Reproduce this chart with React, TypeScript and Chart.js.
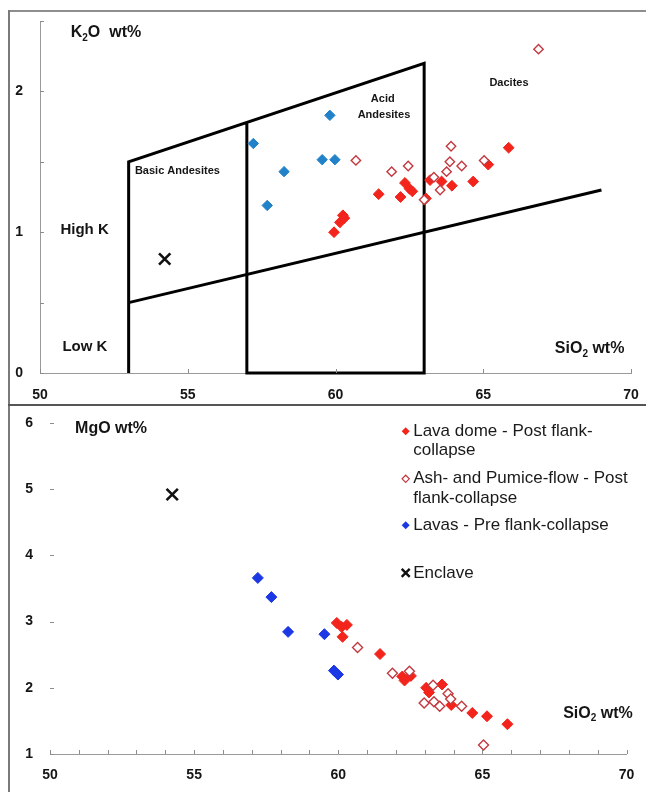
import React, { useEffect, useRef } from 'react';
import { Chart, registerables } from 'chart.js';

Chart.register(...registerables);

const FONT = '"Liberation Sans", Arial, Helvetica, sans-serif';

// ---------------- Top panel: K2O vs SiO2 ----------------
const domeSiO2Top = [59.95, 60.15, 60.25, 60.3, 61.46, 62.2, 62.35, 62.5, 62.6, 63.06, 63.2, 63.59, 63.94, 64.66, 65.17, 65.86];
const domeK2O = [1.0, 1.07, 1.12, 1.1, 1.27, 1.25, 1.35, 1.31, 1.29, 1.24, 1.37, 1.36, 1.33, 1.36, 1.48, 1.6];
const ashSiO2Top = [60.69, 61.9, 62.46, 63.0, 63.33, 63.54, 63.76, 63.87, 63.91, 64.27, 65.03, 66.87];
const ashK2O = [1.51, 1.43, 1.47, 1.23, 1.39, 1.3, 1.43, 1.5, 1.61, 1.47, 1.51, 2.3];
const lavaSiO2Top = [57.22, 57.69, 58.26, 59.55, 59.81, 59.98];
const lavaK2O = [1.63, 1.19, 1.43, 1.515, 1.83, 1.515];
const enclaveSiO2Top = [54.22];
const enclaveK2O = [0.81];

// classification field boundaries (SiO2, K2O)
const fieldSiO2 = [53, 53, 63, 63, 57, 57];
const fieldK2O = [0, 1.5, 2.2, 0, 0, 1.78];
const highKLineSiO2 = [53, 69];
const highKLineK2O = [0.5, 1.3];

const topXLabels = [50, 55, 60, 65, 70];
const topYLabels = [0, 1, 2];

// ---------------- Bottom panel: MgO vs SiO2 ----------------
const domeSiO2Bot = [59.95, 60.12, 60.3, 60.15, 61.45, 62.22, 62.3, 62.52, 63.05, 63.15, 63.6, 63.92, 64.65, 65.16, 65.87];
const domeMgO = [2.98, 2.92, 2.95, 2.77, 2.51, 2.17, 2.11, 2.18, 2.0, 1.93, 2.05, 1.74, 1.62, 1.57, 1.45];
const ashSiO2Bot = [60.67, 61.88, 62.47, 62.98, 63.29, 63.32, 63.52, 63.81, 63.9, 64.28, 65.04];
const ashMgO = [2.61, 2.22, 2.25, 1.77, 2.04, 1.79, 1.72, 1.91, 1.83, 1.72, 1.135];
const lavaSiO2Bot = [57.21, 57.68, 58.26, 59.52, 59.85, 59.99];
const lavaMgO = [3.66, 3.37, 2.845, 2.81, 2.26, 2.2];
const enclaveSiO2Bot = [54.24];
const enclaveMgO = [4.92];

const botXLabels = [50, 55, 60, 65, 70];
const botYLabels = [1, 2, 3, 4, 5, 6];

const seriesNames = [
  ['Lava dome - Post flank-', 'collapse'],
  ['Ash- and Pumice-flow - Post', 'flank-collapse'],
  ['Lavas - Pre flank-collapse'],
  ['Enclave'],
];

// ---------------- styles ----------------
const RED = '#f2241b';
const RED_OUTLINE = '#c23a40';
const BLUE_TOP = '#2182c9';
const BLUE_BOT = '#1b38e4';
const TEXT = '#151515';

const zip = (xs: number[], ys: number[]) => xs.map((x, i) => ({ x, y: ys[i] }));

type Part = { t: string; sub?: boolean };
type Label = { parts: Part[]; x: number; y: number; align: 'left' | 'center' | 'right'; size: number; bold?: boolean };

const fontStr = (size: number, bold?: boolean) => `${bold ? 'bold ' : ''}${size}px ${FONT}`;

function drawParts(ctx: CanvasRenderingContext2D, l: Label, px: number, py: number) {
  const subSize = Math.round(l.size * 0.62);
  let total = 0;
  for (const p of l.parts) {
    ctx.font = fontStr(p.sub ? subSize : l.size, l.bold);
    total += ctx.measureText(p.t).width;
  }
  let cx = l.align === 'center' ? px - total / 2 : l.align === 'right' ? px - total : px;
  ctx.textAlign = 'left';
  ctx.textBaseline = 'middle';
  ctx.fillStyle = TEXT;
  for (const p of l.parts) {
    ctx.font = fontStr(p.sub ? subSize : l.size, l.bold);
    ctx.fillText(p.t, cx, p.sub ? py + l.size * 0.3 : py);
    cx += ctx.measureText(p.t).width;
  }
}

function diamond(ctx: CanvasRenderingContext2D, x: number, y: number, r: number) {
  ctx.beginPath();
  ctx.moveTo(x, y - r);
  ctx.lineTo(x + r, y);
  ctx.lineTo(x, y + r);
  ctx.lineTo(x - r, y);
  ctx.closePath();
}

type LegendCfg = { x: number; textX: number; rows: number[][]; lineGap: number; size: number };

function overlay(labels: Label[], tickLen: number, legend?: LegendCfg) {
  return {
    id: 'overlay',
    afterDraw(chart: any) {
      const { ctx, scales, chartArea } = chart;
      const xs = scales.x;
      const ys = scales.y;
      ctx.save();
      ctx.strokeStyle = '#8c8c8c';
      ctx.lineWidth = 1;
      for (const t of xs.ticks) {
        const px = Math.round(xs.getPixelForValue(t.value)) + 0.5;
        ctx.beginPath();
        ctx.moveTo(px, chartArea.bottom);
        ctx.lineTo(px, chartArea.bottom - tickLen);
        ctx.stroke();
      }
      for (const t of ys.ticks) {
        const py = Math.round(ys.getPixelForValue(t.value)) + 0.5;
        ctx.beginPath();
        ctx.moveTo(chartArea.left, py);
        ctx.lineTo(chartArea.left + tickLen, py);
        ctx.stroke();
      }
      for (const l of labels) {
        drawParts(ctx, l, xs.getPixelForValue(l.x), ys.getPixelForValue(l.y));
      }
      if (legend) {
        const mx = xs.getPixelForValue(legend.x);
        const tx = xs.getPixelForValue(legend.textX);
        legend.rows.forEach((ry, i) => {
          const py = ys.getPixelForValue(ry[0]);
          if (i === 0) {
            diamond(ctx, mx, py, 4);
            ctx.fillStyle = RED;
            ctx.fill();
          } else if (i === 1) {
            diamond(ctx, mx, py, 3.6);
            ctx.fillStyle = '#fff';
            ctx.fill();
            ctx.strokeStyle = RED_OUTLINE;
            ctx.lineWidth = 1.2;
            ctx.stroke();
          } else if (i === 2) {
            diamond(ctx, mx, py, 4);
            ctx.fillStyle = BLUE_BOT;
            ctx.fill();
          } else {
            ctx.strokeStyle = '#111';
            ctx.lineWidth = 2.4;
            ctx.beginPath();
            ctx.moveTo(mx - 4, py - 4);
            ctx.lineTo(mx + 4, py + 4);
            ctx.moveTo(mx + 4, py - 4);
            ctx.lineTo(mx - 4, py + 4);
            ctx.stroke();
          }
          ctx.font = fontStr(legend.size, false);
          ctx.fillStyle = '#1a1a1a';
          ctx.textAlign = 'left';
          ctx.textBaseline = 'middle';
          seriesNames[i].forEach((line, j) => {
            ctx.fillText(line, tx, py + j * legend.lineGap);
          });
        });
      }
      ctx.restore();
    },
  };
}

const tickFont = { family: FONT, size: 14, weight: 'bold' as const };

function pointSets(blue: number, rFilled: number, rHollow: number, rCross: number, dome: any[], ash: any[], lava: any[], encl: any[], blueColor: string) {
  return [
    { label: 'Enclave', data: encl, pointStyle: 'crossRot', pointRadius: rCross, borderColor: '#111', backgroundColor: '#111', borderWidth: 2.6, order: 0 },
    { label: 'Lavas - Pre flank-collapse', data: lava, pointStyle: 'rectRot', pointRadius: blue, backgroundColor: blueColor, borderColor: blueColor, borderWidth: 1, order: 1 },
    { label: 'Ash- and Pumice-flow - Post flank-collapse', data: ash, pointStyle: 'rectRot', pointRadius: rHollow, backgroundColor: '#ffffff', borderColor: RED_OUTLINE, borderWidth: 1.4, order: 2 },
    { label: 'Lava dome - Post flank-collapse', data: dome, pointStyle: 'rectRot', pointRadius: rFilled, backgroundColor: RED, borderColor: RED, borderWidth: 1, order: 3 },
  ];
}

const fitX = (h: number) => (s: any) => {
  s.height = h;
  s.paddingLeft = 0;
  s.paddingRight = 0;
};
const fitY = (w: number) => (s: any) => {
  s.width = w;
  s.paddingTop = 0;
  s.paddingBottom = 0;
};

const noGrid = { display: false, drawTicks: false };

function topConfig(): any {
  const labels: Label[] = [
    { parts: [{ t: 'K' }, { t: '2', sub: true }, { t: 'O  wt%' }], x: 51.04, y: 2.415, align: 'left', size: 16, bold: true },
    { parts: [{ t: 'Basic Andesites' }], x: 54.65, y: 1.437, align: 'center', size: 11, bold: true },
    { parts: [{ t: 'Acid' }], x: 61.6, y: 1.948, align: 'center', size: 11, bold: true },
    { parts: [{ t: 'Andesites' }], x: 61.64, y: 1.835, align: 'center', size: 11, bold: true },
    { parts: [{ t: 'Dacites' }], x: 65.87, y: 2.062, align: 'center', size: 11, bold: true },
    { parts: [{ t: 'High K' }], x: 51.51, y: 1.018, align: 'center', size: 15, bold: true },
    { parts: [{ t: 'Low K' }], x: 51.52, y: 0.187, align: 'center', size: 15, bold: true },
    { parts: [{ t: 'SiO' }, { t: '2', sub: true }, { t: ' wt%' }], x: 68.6, y: 0.17, align: 'center', size: 16, bold: true },
  ];
  return {
    type: 'scatter',
    data: {
      datasets: [
        ...pointSets(5.2, 5.4, 4.7, 8, zip(domeSiO2Top, domeK2O), zip(ashSiO2Top, ashK2O), zip(lavaSiO2Top, lavaK2O), zip(enclaveSiO2Top, enclaveK2O), BLUE_TOP),
        { label: 'field', data: zip(fieldSiO2, fieldK2O), showLine: true, pointRadius: 0, borderColor: '#000', borderWidth: 3, borderJoinStyle: 'miter', clip: false, order: 5, tension: 0 },
        { label: 'highK', data: zip(highKLineSiO2, highKLineK2O), showLine: true, pointRadius: 0, borderColor: '#000', borderWidth: 3, clip: false, order: 5, tension: 0 },
      ],
    },
    options: {
      responsive: false,
      animation: false,
      events: [],
      layout: { padding: { left: 0, right: 15, top: 21, bottom: 0 } },
      plugins: { legend: { display: false }, tooltip: { enabled: false } },
      scales: {
        x: {
          type: 'linear', min: 50, max: 70,
          afterFit: fitX(31),
          grid: noGrid,
          border: { display: true, color: '#9a9a9a', width: 1 },
          ticks: { stepSize: 5, autoSkip: false, maxRotation: 0, padding: 14, color: TEXT, font: tickFont,
            callback: (v: any) => (topXLabels.includes(v) ? String(v) : '') },
        },
        y: {
          type: 'linear', min: 0, max: 2.5,
          afterFit: fitY(40),
          grid: noGrid,
          border: { display: true, color: '#9a9a9a', width: 1 },
          ticks: { stepSize: 0.5, autoSkip: false, padding: 17, color: TEXT, font: tickFont,
            callback: (v: any) => (topYLabels.includes(v) ? String(v) : '') },
        },
      },
    },
    plugins: [overlay(labels, 4)],
  };
}

function bottomConfig(): any {
  const labels: Label[] = [
    { parts: [{ t: 'MgO wt%' }], x: 50.87, y: 5.92, align: 'left', size: 16, bold: true },
    { parts: [{ t: 'SiO' }, { t: '2', sub: true }, { t: ' wt%' }], x: 69.01, y: 1.61, align: 'center', size: 16, bold: true },
  ];
  const legend: LegendCfg = { x: 62.34, textX: 62.6, rows: [[5.877], [5.157], [4.454], [3.735]], lineGap: 19.5, size: 17 };
  return {
    type: 'scatter',
    data: {
      datasets: pointSets(5.5, 5.5, 5, 8, zip(domeSiO2Bot, domeMgO), zip(ashSiO2Bot, ashMgO), zip(lavaSiO2Bot, lavaMgO), zip(enclaveSiO2Bot, enclaveMgO), BLUE_BOT),
    },
    options: {
      responsive: false,
      animation: false,
      events: [],
      layout: { padding: { left: 0, right: 19.5, top: 19, bottom: 0 } },
      plugins: { legend: { display: false }, tooltip: { enabled: false } },
      scales: {
        x: {
          type: 'linear', min: 50, max: 70,
          afterFit: fitX(38),
          grid: noGrid,
          border: { display: true, color: '#9a9a9a', width: 1 },
          ticks: { stepSize: 1, autoSkip: false, maxRotation: 0, padding: 13, color: TEXT, font: tickFont,
            callback: (v: any) => (botXLabels.includes(v) ? String(v) : '') },
        },
        y: {
          type: 'linear', min: 1, max: 6,
          afterFit: fitY(50),
          grid: noGrid,
          border: { display: false },
          ticks: { stepSize: 1, autoSkip: false, padding: 17, color: TEXT, font: tickFont,
            callback: (v: any) => (botYLabels.includes(v) ? String(v) : '') },
        },
      },
    },
    plugins: [overlay(labels, 4, legend)],
  };
}

function Panel({ make, top, height }: { make: () => any; top: number; height: number }) {
  const ref = useRef<HTMLCanvasElement>(null);
  useEffect(() => {
    const chart = new Chart(ref.current as HTMLCanvasElement, make());
    return () => chart.destroy();
  }, []);
  return (
    <canvas
      ref={ref}
      width={646}
      height={height}
      style={{ position: 'absolute', left: 0, top, width: 646, height }}
    />
  );
}

export default function App() {
  return (
    <div style={{ position: 'absolute', left: 0, top: 0, width: 646, height: 792, overflow: 'hidden', background: '#fff' }}>
      <div style={{ position: 'absolute', left: 8, top: 10, width: 640, height: 2, background: '#8e8e8e' }} />
      <div style={{ position: 'absolute', left: 8, top: 10, width: 2, height: 782, background: '#7a7a7a' }} />
      <div style={{ position: 'absolute', left: 8, top: 404, width: 640, height: 2, background: '#555' }} />
      <Panel make={topConfig} top={0} height={404} />
      <Panel make={bottomConfig} top={404} height={388} />
    </div>
  );
}
